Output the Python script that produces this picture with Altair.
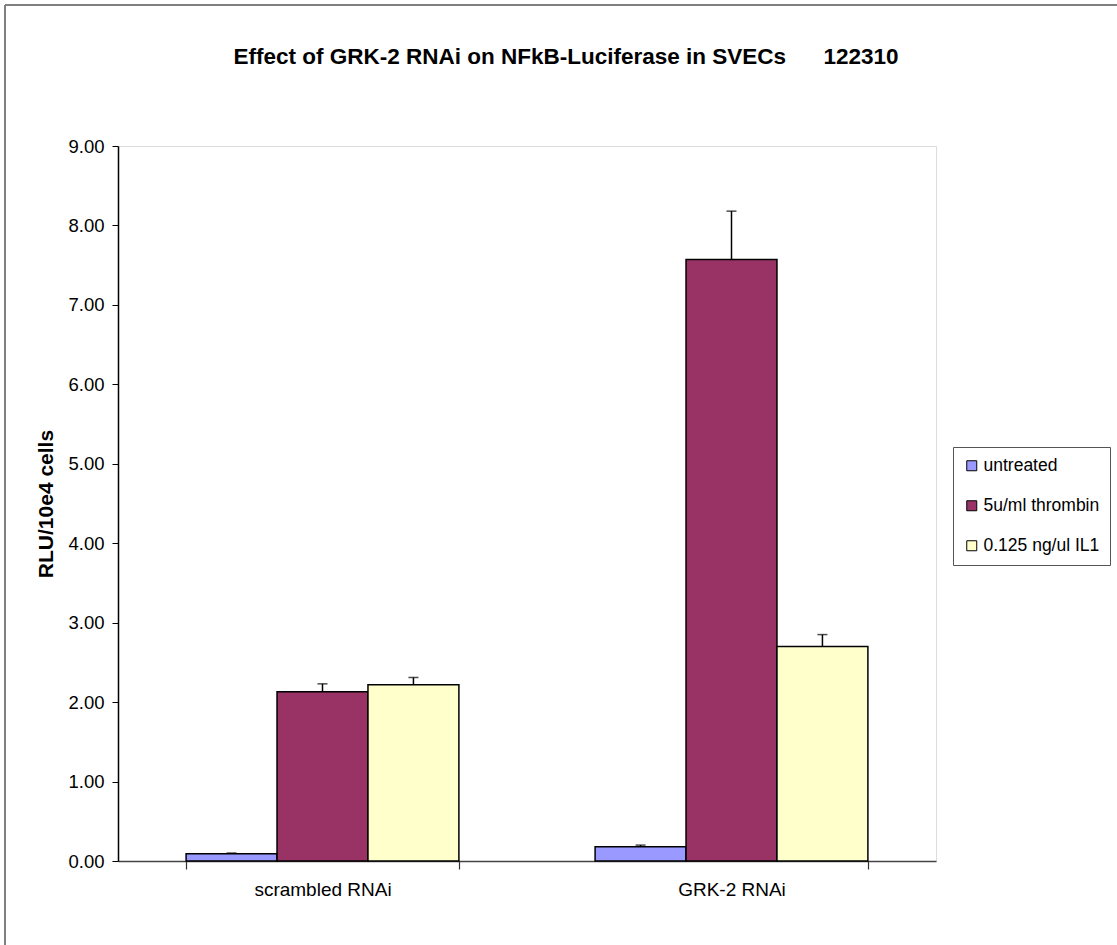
import altair as alt
import pandas as pd

groups = ["scrambled RNAi", "GRK-2 RNAi"]
series = ["untreated", "5u/ml thrombin", "0.125 ng/ul IL1"]
colors = ["#9999FF", "#993366", "#FFFFCC"]
untreated = [0.09, 0.18]
untreated_err = [0.01, 0.02]
thrombin = [2.13, 7.57]
thrombin_err = [0.10, 0.61]
il1 = [2.22, 2.70]
il1_err = [0.09, 0.15]
y_ticks = [0, 1, 2, 3, 4, 5, 6, 7, 8, 9]

rows = []
for vals, errs, s in [(untreated, untreated_err, series[0]),
                      (thrombin, thrombin_err, series[1]),
                      (il1, il1_err, series[2])]:
    for g, v, e in zip(groups, vals, errs):
        rows.append({"group": g, "series": s, "value": v, "upper": v + e})
df = pd.DataFrame(rows)

FONT = "Liberation Sans"

x_enc = alt.X("group:N", sort=groups, title=None,
              scale=alt.Scale(paddingInner=0.333, paddingOuter=0.1665),
              axis=alt.Axis(labelAngle=0, labelFontSize=19, labelColor="#000",
                            labelFont=FONT, labelPadding=11, tickBand="extent",
                            tickSize=8, tickColor="#333", domainColor="#444",
                            domainWidth=1.5, tickWidth=1.2))
xoff = alt.XOffset("series:N", sort=series,
                   scale=alt.Scale(paddingInner=0, paddingOuter=0))
y_enc = alt.Y("value:Q", title="RLU/10e4 cells",
              scale=alt.Scale(domain=[0, 9], nice=False),
              axis=alt.Axis(values=y_ticks, format=".2f", grid=False,
                            labelFontSize=18.5, labelColor="#000", labelFont=FONT,
                            labelPadding=8, tickSize=6, tickColor="#000",
                            domainColor="#000", domainWidth=1.5,
                            titleFont=FONT, titleFontSize=21, titleFontWeight="bold",
                            titleColor="#000", titlePadding=11))

bars = alt.Chart(df).mark_bar(stroke="#000", strokeWidth=1.5).encode(
    x=x_enc, xOffset=xoff, y=y_enc,
    color=alt.Color("series:N", sort=series,
                    scale=alt.Scale(domain=series, range=colors),
                    legend=alt.Legend(title=None, orient="none", legendX=835, legendY=301,
                                      strokeColor="#555", fillColor="#fff", padding=10,
                                      rowPadding=21, labelFontSize=17.5, labelFont=FONT,
                                      labelColor="#000", symbolType="square",
                                      symbolSize=100, symbolStrokeColor="#000",
                                      symbolStrokeWidth=1, labelOffset=3)),
)

rules = alt.Chart(df).mark_rule(color="#000", strokeWidth=1.5).encode(
    x=alt.X("group:N", sort=groups), xOffset=alt.XOffset("series:N", sort=series),
    y="value:Q", y2="upper:Q")

caps = alt.Chart(df).mark_tick(color="#000", thickness=1.5, size=10).encode(
    x=alt.X("group:N", sort=groups), xOffset=alt.XOffset("series:N", sort=series),
    y="upper:Q")

frame_top = alt.Chart(df).mark_rule(color="#808080", strokeWidth=2, clip=False).encode(
    x=alt.value(-113), x2=alt.value(999), y=alt.value(-141))
frame_left = alt.Chart(df).mark_rule(color="#808080", strokeWidth=2, clip=False).encode(
    x=alt.value(-113), y=alt.value(-141), y2=alt.value(799))

chart = alt.layer(bars, rules, caps, frame_top, frame_left).properties(
    width=818, height=715,
    title=alt.TitleParams(
        "Effect of GRK-2 RNAi on NFkB-Luciferase in SVECs\u00a0\u00a0\u00a0\u00a0\u00a0\u00a0122310",
        font=FONT, fontSize=22.5, fontWeight="bold", color="#000",
        anchor="middle", offset=-64, dx=39),
    autosize=alt.AutoSizeParams(type="none"),
    padding={"left": 118, "top": 146, "right": 181, "bottom": 84},
).configure_view(stroke="#808080", strokeWidth=1.5).configure(background="white")

chart.save("out.html", embed_options={"renderer": "svg", "actions": False})
